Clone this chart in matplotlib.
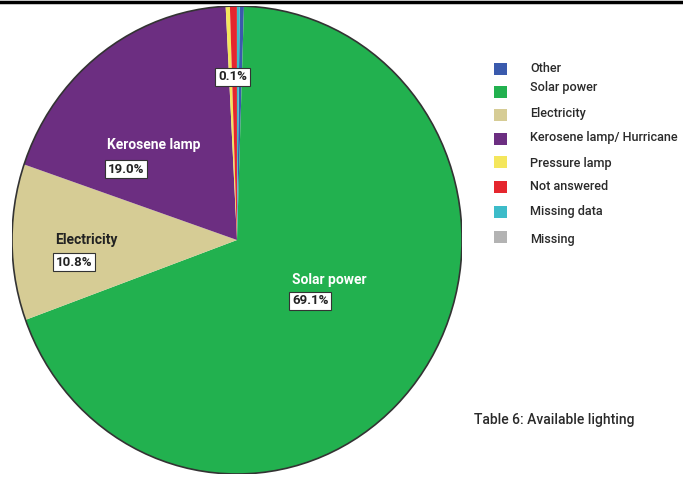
import matplotlib
matplotlib.use("Agg")
from matplotlib import pyplot as plt
from matplotlib.patches import Rectangle, Ellipse

# values (percent)
categories = ['Other', 'Solar power', 'Electricity', 'Kerosene lamp/ Hurricane',
              'Pressure lamp', 'Not answered', 'Missing data', 'Missing']
shares = [0.3, 69.1, 10.8, 19.0, 0.3, 0.5, 0.2, 0.0]
colors = ['#3a5aad', '#22b14f', '#d6cc95', '#6c2e81',
          '#f4e65c', '#e5262e', '#3dbcc9', '#b3b3b3']

# in-pie labels: (name, name colour, percent text, name pos px, box pos px)
pie_labels = [
    ('Solar power', 'white', '69.1%', (292, 280), (292, 301)),
    ('Kerosene lamp', 'white', '19.0%', (107, 145), (108, 169)),
    ('Electricity', '#222222', '10.8%', (55, 240), (56, 262)),
    ('', 'white', '0.1%', (0, 0), (218, 77)),
]

# legend row centres in pixels (square, text)
legend_rows = [(69, 68), (92, 87), (115, 114), (139, 138),
               (162, 163), (187, 187), (212, 212), (237, 239)]

W, H = 683, 479
plt.rcParams['font.family'] = ['Roboto', 'DejaVu Sans']

fig = plt.figure(figsize=(W / 100, H / 100), dpi=100)

def fx(px):
    return px / W

def fy(py):
    return 1 - py / H

# pie is slightly taller than wide in the source
cx, cy, rx, ry = 237, 240, 225, 234
ax = fig.add_axes([fx(cx - rx), fy(cy + ry), 2 * rx / W, 2 * ry / H])
ax.pie(shares, colors=colors, startangle=89.3, counterclock=False,
       wedgeprops=dict(linewidth=0))
ax.set_aspect('auto')
ax.set_xlim(-1, 1)
ax.set_ylim(-1, 1)
ax.add_patch(Ellipse((0, 0), 2, 2, fill=False, edgecolor='#333333', linewidth=1.2))
ax.axis('off')

for name, ncol, pct, npos, bpos in pie_labels:
    if name:
        fig.text(fx(npos[0]), fy(npos[1]), name, color=ncol, fontsize=10,
                 fontweight='bold', ha='left', va='center')
    fig.text(fx(bpos[0]), fy(bpos[1]), pct, color='#222222', fontsize=9.5,
             fontweight='bold', ha='left', va='center',
             bbox=dict(boxstyle='square,pad=0.2', facecolor='white',
                       edgecolor='#333333', linewidth=0.8))

# legend
for cat, col, (sy, ty) in zip(categories, colors, legend_rows):
    fig.patches.append(Rectangle((fx(494), fy(sy + 6)), 13 / W, 12 / H,
                                 transform=fig.transFigure, facecolor=col,
                                 edgecolor='none'))
    fig.text(fx(530), fy(ty), cat, color='#2a2a2a', fontsize=9.1,
             fontweight='medium', ha='left', va='center')

fig.text(fx(474), fy(420), 'Table 6: Available lighting', color='#2a2a2a',
         fontsize=10, fontweight='medium', ha='left', va='center')

# black rule across the top
fig.add_artist(plt.Line2D([0, 1], [fy(2), fy(2)], transform=fig.transFigure,
                          color='black', linewidth=2.5))

fig.savefig('out.png', dpi=100)
